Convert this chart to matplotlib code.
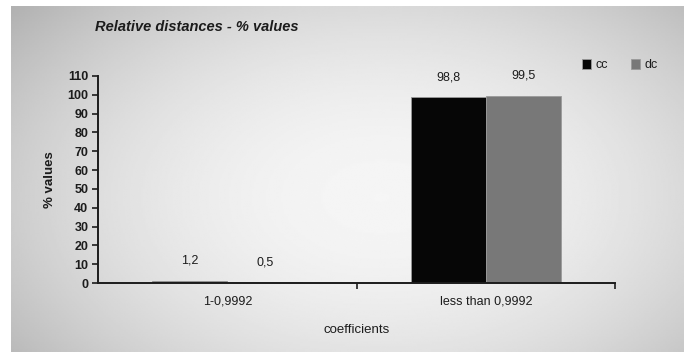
import numpy as np
import matplotlib
matplotlib.use("Agg")
import matplotlib.pyplot as plt
from matplotlib.patches import Patch

plt.rcParams['font.family'] = ['Liberation Sans', 'DejaVu Sans']

categories = ["1-0,9992", "less than 0,9992"]
series_names = ["cc", "dc"]
cc_values = [1.2, 98.8]
dc_values = [0.5, 99.5]
y_ticks = list(range(0, 111, 10))

bar_colors = ["#060606", "#787878"]
ink = "#1c1c1c"

fig = plt.figure(figsize=(6.84, 3.52), dpi=100, facecolor="white")

# soft grey backdrop, lighter towards the middle
bg = fig.add_axes([11 / 684, 0, 673 / 684, 346 / 352], zorder=-10)
ny, nx = 200, 400
yy, xx = np.mgrid[0:ny, 0:nx]
cx, cy = 0.52 * nx, 0.55 * ny
r = np.sqrt(((xx - cx) / (0.70 * nx)) ** 2 + ((yy - cy) / (0.85 * ny)) ** 2)
shade = 0.975 - 0.26 * np.clip(r, 0, 1.3) ** 2
shade -= 0.03 * (1 - xx / nx)  # slightly darker on the left
bg.imshow(shade, cmap="gray", vmin=0, vmax=1, aspect="auto",
          extent=[0, 1, 0, 1], interpolation="bilinear")
bg.set_axis_off()

ax = fig.add_axes([98 / 684, 1 - 283 / 352, (615 - 98) / 684, (283 - 76) / 352])
ax.patch.set_alpha(0)

x = np.arange(len(categories))
w = 0.29
series = [cc_values, dc_values]
for i, (name, vals) in enumerate(zip(series_names, series)):
    pos = x + (i - 0.5) * w
    ax.bar(pos, vals, width=w, color=bar_colors[i], edgecolor="#9a9a9a",
           linewidth=0.6, label=name)
    for px, v in zip(pos, vals):
        ax.annotate(f"{v:.1f}".replace(".", ","), (px, v), xytext=(0, 10),
                    textcoords="offset points", ha="center", va="bottom",
                    fontsize=9, color=ink)

ax.set_xlim(-0.5, 1.5)
ax.set_ylim(0, 110)
ax.set_yticks(y_ticks)
ax.set_yticklabels([str(t) for t in y_ticks], fontsize=9, fontweight="bold", color=ink)
ax.set_xticks(x)
ax.set_xticklabels(categories, fontsize=9, color=ink)
ax.tick_params(axis="x", length=0, pad=9)
ax.set_xticks([0.5, 1.5], minor=True)
ax.tick_params(axis="x", which="minor", length=4, width=1.2, color=ink, direction="out")
ax.tick_params(axis="y", length=4, width=1.2, color=ink, direction="out", pad=3)

for s in ["top", "right"]:
    ax.spines[s].set_visible(False)
for s in ["left", "bottom"]:
    ax.spines[s].set_linewidth(1.4)
    ax.spines[s].set_color(ink)

ax.set_ylabel("% values", fontsize=9.5, fontweight="bold", color=ink, labelpad=8)
ax.set_xlabel("coefficients", fontsize=9.5, color=ink, labelpad=12)

fig.text(95 / 684, 1 - 27 / 352, "Relative distances - % values", fontsize=10.5,
         fontstyle="italic", fontweight="bold", color=ink, va="center", ha="left")

handles = [Patch(facecolor=bar_colors[i], edgecolor="#9a9a9a", linewidth=0.6)
           for i in range(2)]
fig.legend(handles, series_names, loc="center", bbox_to_anchor=(620 / 684, 1 - 65 / 352),
           ncol=2, frameon=False, fontsize=9, handlelength=0.7, handleheight=0.9,
           handletextpad=0.4, columnspacing=1.8, labelcolor=ink)

fig.savefig("out.png", dpi=100, facecolor=fig.get_facecolor())
